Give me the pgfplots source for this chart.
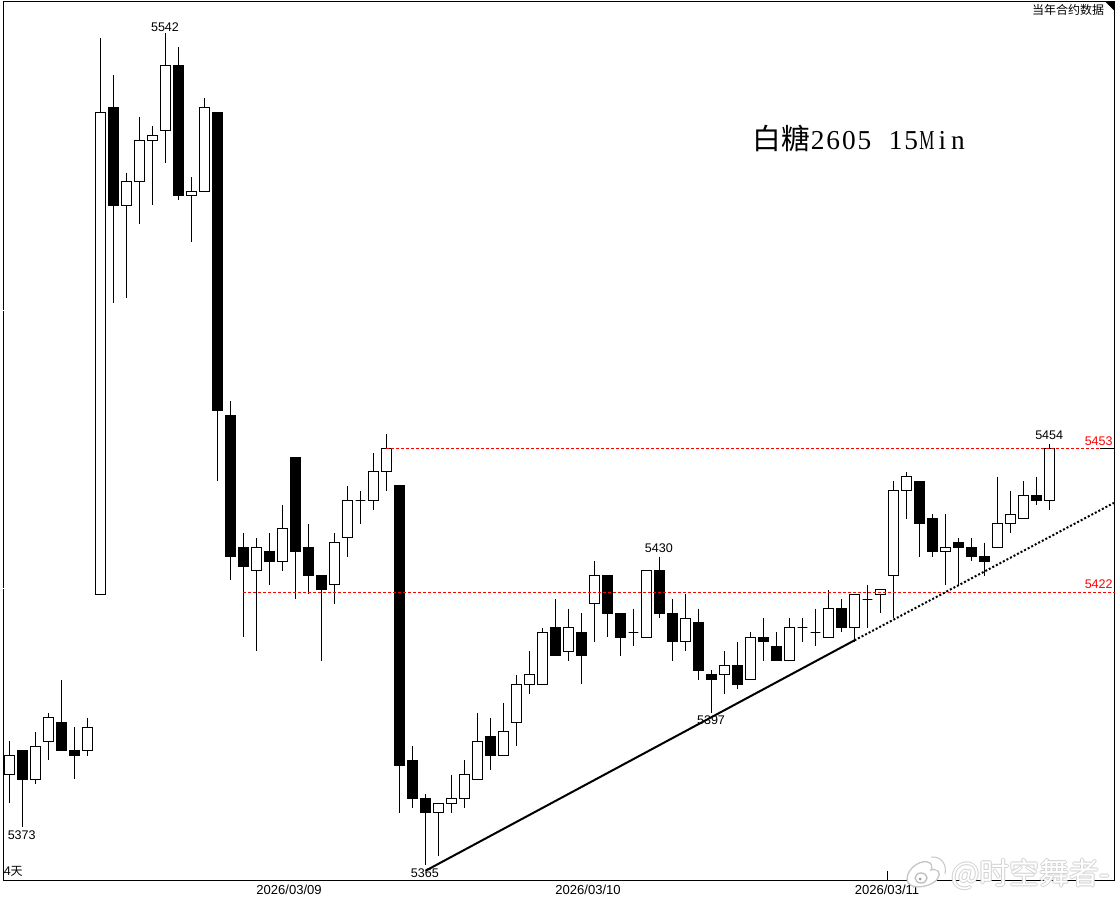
\documentclass[border=0pt]{standalone}
\usepackage{fontspec}
\usepackage{pgfplots}
\usepackage{pgfplotstable}
\pgfplotsset{compat=1.18}
\setmainfont{Liberation Sans}
\newfontfamily\cjk{Noto Sans CJK SC}
\newfontfamily\titleserif{Liberation Serif}
\newfontfamily\titlenarrow[FakeStretch=0.62]{Liberation Serif}
\newcommand\cell[1]{\hbox to 11.7pt{\hss#1\hss}}
\definecolor{lblred}{RGB}{255,0,0}
\pgfplotstableread{
i top bot high low black
0 5388 5384 5391 5378 0
1 5389 5383 5389 5373 1
2 5390 5383 5393 5382 0
3 5396 5391 5397 5387 0
4 5395 5389 5404 5389 1
5 5389 5388 5394 5383 1
6 5394 5389 5396 5388 0
7 5525 5422 5541 5422 0
8 5526 5505 5533 5484 1
9 5510 5505 5512 5485 0
10 5519 5510 5524 5501 0
11 5520 5519 5522 5505 0
12 5535 5521 5542 5514 0
13 5535 5507 5539 5506 1
14 5508 5507 5511 5497 0
15 5526 5508 5528 5508 0
16 5525 5461 5525 5446 1
17 5460 5430 5463 5425 1
18 5432 5428 5435 5413 1
19 5432 5427 5434 5410 0
20 5431 5429 5435 5424 1
21 5436 5429 5441 5427 0
22 5451 5431 5451 5421 1
23 5432 5426 5437 5422 1
24 5426 5423 5426 5408 1
25 5433 5424 5435 5420 0
26 5442 5434 5445 5430 0
27 5442 5442 5444 5437 0
28 5448 5442 5452 5440 0
29 5453 5448 5456 5444 0
30 5445 5386 5445 5376 1
31 5387 5379 5390 5377 1
32 5379 5376 5380 5365 1
33 5378 5376 5378 5367 0
34 5379 5378 5384 5376 0
35 5384 5379 5387 5377 0
36 5391 5383 5397 5383 0
37 5392 5388 5396 5385 1
38 5393 5388 5399 5388 0
39 5403 5395 5405 5390 0
40 5405 5403 5410 5401 0
41 5414 5403 5415 5403 0
42 5415 5409 5421 5409 1
43 5415 5410 5419 5408 0
44 5414 5409 5418 5403 1
45 5426 5420 5429 5412 0
46 5426 5418 5426 5413 1
47 5418 5413 5418 5409 1
48 5414 5414 5419 5411 0
49 5427 5413 5427 5413 0
50 5427 5418 5430 5417 1
51 5418 5412 5421 5408 1
52 5417 5412 5422 5410 0
53 5416 5406 5419 5404 1
54 5405 5404 5406 5397 1
55 5407 5405 5410 5401 0
56 5407 5403 5412 5402 1
57 5413 5404 5414 5404 0
58 5413 5412 5417 5408 1
59 5411 5408 5414 5408 1
60 5415 5408 5417 5408 0
61 5415 5415 5417 5412 0
62 5414 5414 5419 5411 0
63 5419 5413 5423 5413 0
64 5419 5415 5421 5414 1
65 5422 5415 5422 5412 0
66 5421 5421 5424 5415 0
67 5423 5422 5423 5418 0
68 5444 5426 5446 5417 0
69 5447 5444 5448 5438 0
70 5446 5437 5446 5430 1
71 5438 5431 5439 5430 1
72 5432 5431 5439 5424 0
73 5433 5432 5434 5424 1
74 5432 5430 5434 5429 1
75 5430 5429 5433 5426 1
76 5437 5432 5447 5432 0
77 5439 5437 5444 5435 0
78 5443 5438 5446 5438 0
79 5443 5442 5447 5441 1
80 5453 5442 5454 5440 0
}\candles
\begin{document}
\begin{tikzpicture}
\useasboundingbox (0,0) rectangle (837pt,675pt);
\begin{axis}[
  at={(2.625pt,14.625pt)}, anchor=south west,
  scale only axis, width=833.25pt, height=659.25pt,
  % the price scale of the original is logarithmic: the same curve, written so that TeX can hold it
  y coord trafo/.code={\pgfmathparse{#1-(#1-5450)*(#1-5450)/10900}},
  xmin=-0.4615, xmax=85, ymin=5361.81, ymax=5548.92,
  clip=false,
  axis line style={black,line width=.75pt},
  ytick=\empty,
  xtick={21.5,44.5,67.5},
  xticklabels={2026/03/09,2026/03/10,2026/03/11},
  xtick pos=lower, tick align=inside, major tick length=0pt,
  xticklabel style={anchor=base,yshift=-10.6pt,font=\fontsize{9.8pt}{11pt}\selectfont},
  extra x ticks={67.5}, extra x tick labels={},
  extra x tick style={major tick length=7.35pt,tick style={black,line width=.75pt}},
]
\pgfplotstablegetrowsof{\candles}
\pgfmathtruncatemacro\lastrow{\pgfplotsretval-1}
\pgfplotsforeachungrouped \r in {0,...,\lastrow}{
  \pgfplotstablegetelem{\r}{i}\of\candles \let\ci\pgfplotsretval
  \pgfplotstablegetelem{\r}{top}\of\candles \let\ct\pgfplotsretval
  \pgfplotstablegetelem{\r}{bot}\of\candles \let\cb\pgfplotsretval
  \pgfplotstablegetelem{\r}{high}\of\candles \let\ch\pgfplotsretval
  \pgfplotstablegetelem{\r}{low}\of\candles \let\cl\pgfplotsretval
  \pgfplotstablegetelem{\r}{black}\of\candles \let\ck\pgfplotsretval
  \pgfmathsetmacro\xa{\ci-0.375}
  \pgfmathsetmacro\xb{\ci+0.375}
  \ifnum\ck=1 \def\cf{black}\else \def\cf{white}\fi
  \edef\cmd{
    \noexpand\addplot[black,line width=.75pt,forget plot] coordinates {(\ci,\ch)(\ci,\cl)};
    \noexpand\addplot[draw=black,fill=\cf,line width=.75pt,forget plot] coordinates {(\xa,\ct)(\xb,\ct)(\xb,\cb)(\xa,\cb)} --cycle;
  }
  \cmd
}
% support and resistance levels
\addplot[red,line width=.75pt,dash pattern=on 2.25pt off 1.5pt] coordinates {(28.96,5453)(85,5453)};
\addplot[red,line width=.75pt,dash pattern=on 2.25pt off 1.5pt] coordinates {(17.98,5422.4)(85,5422.4)};
\addplot[black,line width=.75pt] coordinates {(83.85,5453)(85,5453)};
% trend line
\addplot[black,line width=1.5pt] coordinates {(32,5363.85)(65,5412.3)};
\addplot[black,line width=1.5pt,dash pattern=on 1.5pt off 1.5pt] coordinates {(65,5412.3)(84.95,5441.4)};
% small gaps on the price axis
\addplot[white,line width=.75pt] coordinates {(-0.5,5482.5)(-0.42,5482.5)};
\addplot[white,line width=.75pt] coordinates {(-0.5,5423.3)(-0.42,5423.3)};
\end{axis}
\begin{scope}[x=.75pt,y=-.75pt,yshift=675pt]
  \def\lab{\fontsize{9.4pt}{11pt}\selectfont}
  \node[inner sep=0pt,font=\lab] at (165,27) {5542};
  \node[inner sep=0pt,font=\lab] at (21.7,834.7) {5373};
  \node[inner sep=0pt,font=\lab] at (424.8,873.3) {5365};
  \node[inner sep=0pt,font=\lab] at (711,720.3) {5397};
  \node[inner sep=0pt,font=\lab] at (658.8,548.3) {5430};
  \node[inner sep=0pt,font=\lab] at (1049.2,435.7) {5454};
  \node[inner sep=0pt,font=\lab,text=lblred] at (1098.7,440.7) {5453};
  \node[inner sep=0pt,font=\lab,text=lblred] at (1098.7,584.3) {5422};
  \node[inner sep=0pt,font=\lab,anchor=west] at (3.5,871.5) {4{\cjk\fontsize{9pt}{11pt}\selectfont 天}};
  \node[inner sep=0pt,anchor=center] at (1068,9.8) {\cjk\fontsize{9pt}{11pt}\selectfont 当年合约数据};
  \fill[black] (1105,1.5) -- (1114.5,1.5) -- (1114.5,11) -- cycle;
  % title
  \node[inner sep=0pt,anchor=base west] at (752,150) {\hbox{{\cjk\fontsize{21.6pt}{24pt}\selectfont 白糖}\fontsize{20.5pt}{24pt}\selectfont\titleserif\cell{2}\cell{6}\cell{0}\cell{5}\cell{ }\cell{1}\cell{5}\cell{\titlenarrow M}\cell{i}\cell{n}}};
  % watermark
  \def\wm{{\cjk\fontsize{22.5pt}{24pt}\selectfont @时空舞者-}}
  \foreach \dx/\dy in {-1/0,1/0,0/-1,0/1}
    \node[inner sep=0pt,anchor=west,text=black!18] at (951+\dx,874+\dy) {\wm};
  \node[inner sep=0pt,anchor=west,text=white] at (951,874) {\wm};
  % watermark logo
  \filldraw[fill=white,draw=black!22,line width=1pt] (907,879) .. controls (907,868) and (922,858) .. (930,863) .. controls (933,866) and (932,868) .. (931,870) .. controls (938,868) and (941,873) .. (938,878) .. controls (934,887) and (907,892) .. (907,879) -- cycle;
  \draw[black!25,line width=1pt] (921,878) ellipse (6 and 5);
  \fill[black!40] (920,879) circle (1.5);
  \draw[white,line width=3pt] (931,859) .. controls (940,858) and (945,865) .. (943,873);
  \draw[black!22,line width=.75pt] (931,857) .. controls (941,856) and (947,864) .. (945,874);
  \draw[white,line width=2pt] (932,865) .. controls (935,865) and (938,867) .. (937,870);
\end{scope}
\end{tikzpicture}
\end{document}
